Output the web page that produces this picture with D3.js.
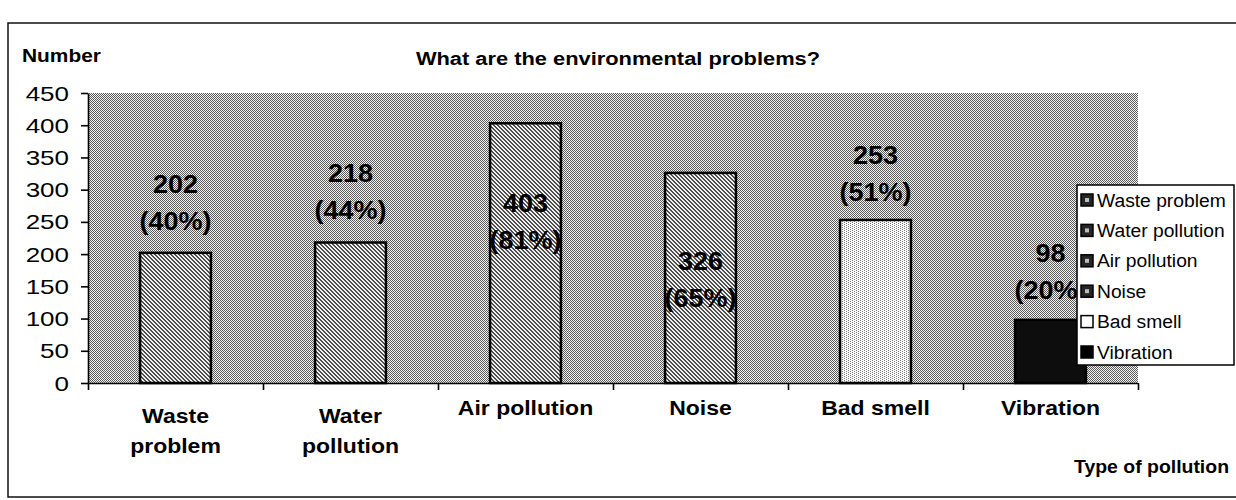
<!DOCTYPE html>
<html><head><meta charset="utf-8">
<script src="https://cdn.jsdelivr.net/npm/d3@7"></script>
<style>body{margin:0;background:#fff}svg{display:block;font-family:"Liberation Sans",Arial,sans-serif}</style>
</head><body><svg id="c" width="1236" height="500"></svg>
<script>
// ---------- data ----------
const categories = ["Waste problem","Water pollution","Air pollution","Noise","Bad smell","Vibration"];
const categoryLines = [["Waste","problem"],["Water","pollution"],["Air pollution"],["Noise"],["Bad smell"],["Vibration"]];
const counts = [202,218,403,326,253,98];
const percents = [40,44,81,65,51,20];
const yTicks = [0,50,100,150,200,250,300,350,400,450];
const titleText = "What are the environmental problems?";
const yTitle = "Number";
const xTitle = "Type of pollution";

// ---------- layout ----------
const labelAnchor = [307,324,278,188,352,200]; // value-units where label's first line sits
const plot = {l:88, r:1138, t:93, b:383};
const fills = ["url(#pBar)","url(#pBar)","url(#pBar)","url(#pBar)","url(#pLight)","#0d0d0d"];

const svg = d3.select("#c");
const defs = svg.append("defs");
function pat(id, bg, fg, cells, size){
  const p = defs.append("pattern").attr("id",id).attr("patternUnits","userSpaceOnUse")
    .attr("width",size).attr("height",size);
  p.append("rect").attr("width",size).attr("height",size).attr("fill",bg);
  cells.forEach(([a,b])=>p.append("rect").attr("x",a).attr("y",b).attr("width",1).attr("height",1).attr("fill",fg));
}
pat("pBg","#f4f4f4","#5a5a5a",[[0,0],[1,1],[2,2],[3,3],[2,0],[3,1],[0,2],[1,3]],4);
pat("pBar","#f0f0f0","#4e4e4e",[[0,0],[1,1],[2,2],[3,3],[1,0],[2,1],[3,2],[0,3]],4);
pat("pLight","#fbfbfb","#7a7a7a",[[0,0],[2,1],[0,2],[2,3]],4);

function txt(g, x, y, s, opt){
  return g.append("text")
    .attr("transform",`translate(${x},${y}) scale(${opt.sx||1},1)`)
    .attr("text-anchor",opt.anchor||"start")
    .attr("font-size",opt.size).attr("font-weight",opt.weight||"normal")
    .attr("fill","#000").text(s);
}

// outer frame
svg.append("rect").attr("x",8).attr("y",23).attr("width",1240).attr("height",474)
  .attr("fill","none").attr("stroke","#111").attr("stroke-width",1.5);

const x = d3.scaleBand().domain(categories).range([plot.l,plot.r]).paddingInner(0.595).paddingOuter(0.2975);
const xEdge = d3.scaleLinear().domain([0,categories.length]).range([plot.l,plot.r]);
const y = d3.scaleLinear().domain([0,450]).range([plot.b,plot.t]);

// plot background
svg.append("rect").attr("x",plot.l).attr("y",plot.t).attr("width",plot.r-plot.l).attr("height",plot.b-plot.t)
  .attr("fill","url(#pBg)");

// bars
svg.selectAll("rect.bar").data(counts).join("rect").attr("class","bar")
  .attr("x",(d,i)=>x(categories[i])).attr("width",x.bandwidth())
  .attr("y",d=>y(d)).attr("height",d=>y(0)-y(d))
  .attr("fill",(d,i)=>fills[i]).attr("stroke","#000").attr("stroke-width",2.5);

// data labels
const lab = svg.append("g");
counts.forEach((d,i)=>{
  const cx = x(categories[i]) + x.bandwidth()/2;
  const y0 = y(labelAnchor[i]);
  txt(lab, cx, y0+8, String(d), {size:25, weight:"bold", anchor:"middle", sx:1.08});
  txt(lab, cx, y0+45, `(${percents[i]}%)`, {size:25, weight:"bold", anchor:"middle", sx:1.08});
});

// y axis
const ya = svg.append("g").attr("transform",`translate(${plot.l},0)`)
  .call(d3.axisLeft(y).tickValues(yTicks).tickSize(7).tickSizeOuter(0));
ya.select(".domain").attr("stroke","#000").attr("stroke-width",1.6);
ya.selectAll(".tick line").attr("stroke","#000").attr("stroke-width",1.6);
ya.selectAll(".tick text").attr("x",0).attr("dy",null).attr("y",0)
  .attr("transform","translate(-19,7) scale(1.3,1)").attr("font-size",20)
  .attr("font-family",'"Liberation Sans",Arial,sans-serif').attr("fill","#000");

// x axis (ticks at category boundaries)
const xa = svg.append("g").attr("transform",`translate(0,${plot.b})`)
  .call(d3.axisBottom(xEdge).tickValues(d3.range(categories.length+1)).tickFormat("").tickSize(7).tickSizeOuter(0));
xa.select(".domain").attr("stroke","#000").attr("stroke-width",1.6);
xa.selectAll(".tick line").attr("stroke","#000").attr("stroke-width",1.6);

// category labels
const cl = svg.append("g");
categoryLines.forEach((lines,i)=>{
  const cx = x(categories[i]) + x.bandwidth()/2;
  if(lines.length===1){
    txt(cl, cx, 415, lines[0], {size:20, weight:"bold", anchor:"middle", sx:1.15});
  } else {
    txt(cl, cx, 423, lines[0], {size:20, weight:"bold", anchor:"middle", sx:1.15});
    txt(cl, cx, 453, lines[1], {size:20, weight:"bold", anchor:"middle", sx:1.15});
  }
});

// titles
txt(svg, 22, 62, yTitle, {size:19, weight:"bold", sx:1.1});
txt(svg, 618, 65, titleText, {size:19, weight:"bold", anchor:"middle", sx:1.15});
txt(svg, 1229, 473, xTitle, {size:18, weight:"bold", anchor:"end", sx:1.08});

// legend
const lg = svg.append("g");
lg.append("rect").attr("x",1077).attr("y",185).attr("width",157).attr("height",180)
  .attr("fill","#fff").attr("stroke","#000").attr("stroke-width",1.5);
const legFill = ["#262626","#262626","#262626","#262626","#fff","#000"];
categories.forEach((c,i)=>{
  const cy = 200 + i*30.4;
  lg.append("rect").attr("x",1081).attr("y",cy-6).attr("width",12).attr("height",12)
    .attr("fill",legFill[i]).attr("stroke","#000").attr("stroke-width",1.5);
  if(i<4) lg.append("rect").attr("x",1085).attr("y",cy-2).attr("width",4).attr("height",4).attr("fill","#bdbdbd");
  txt(lg, 1097, cy+6.5, c, {size:18, sx:1.07});
});
</script></body></html>
